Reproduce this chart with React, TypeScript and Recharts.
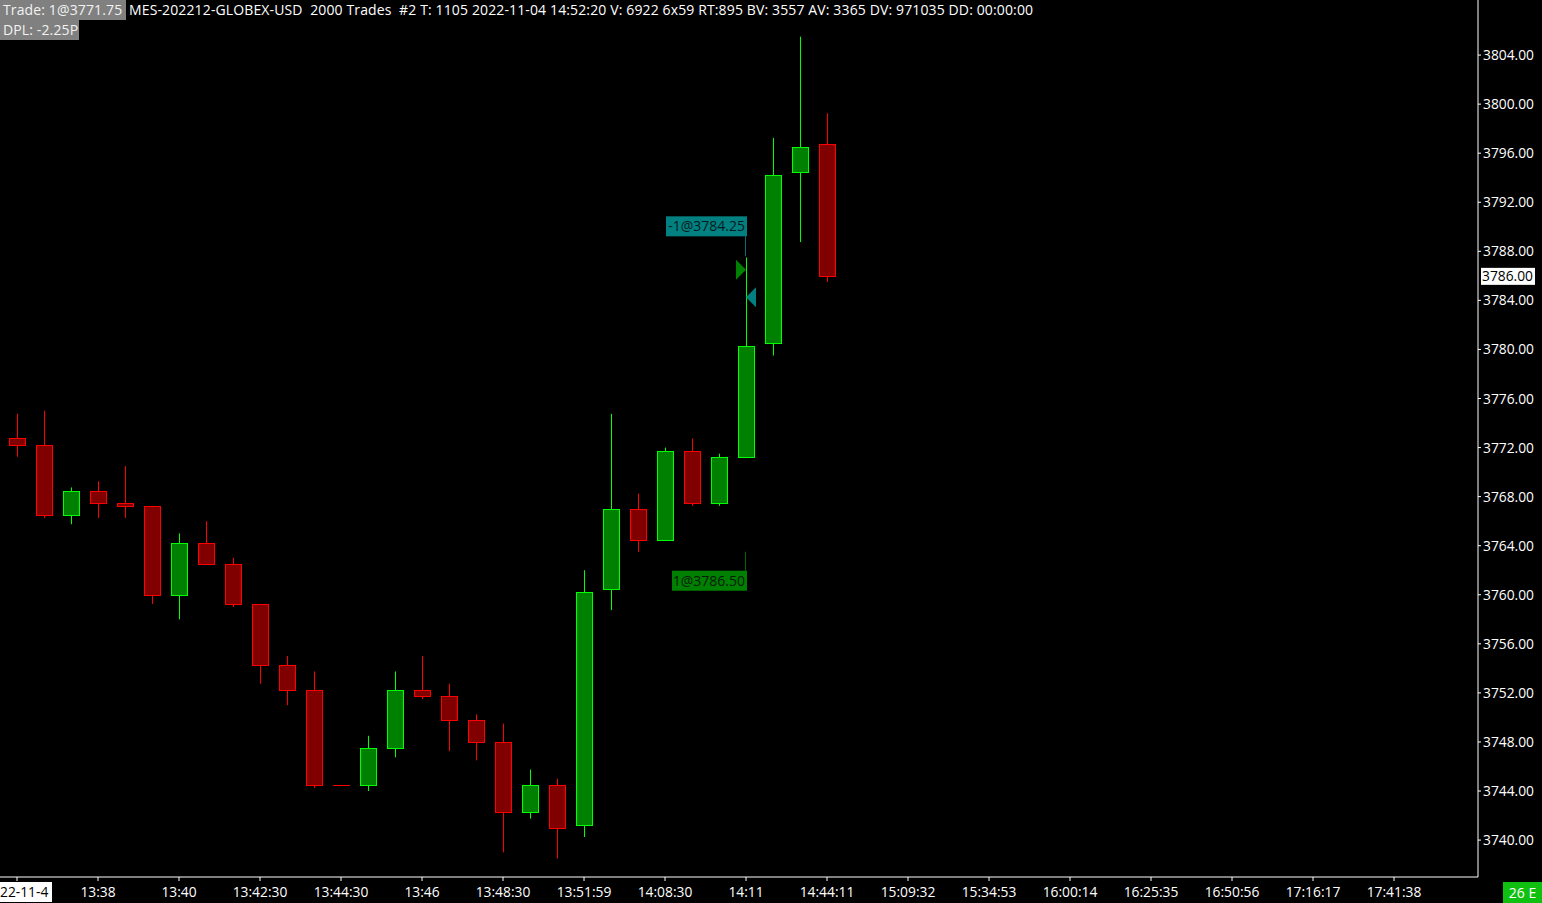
import React from 'react';
import { ComposedChart, Bar, XAxis, YAxis, Scatter, ReferenceLine } from 'recharts';

// ---- data ----
const opens = [3772.75, 3772.25, 3766.5, 3768.5, 3767.5, 3767.25, 3760.0, 3764.25, 3762.5, 3759.25, 3754.25, 3752.25, 3744.5, 3744.5, 3747.5, 3752.25, 3751.75, 3749.75, 3748.0, 3742.25, 3744.5, 3741.25, 3760.5, 3767.0, 3764.5, 3771.75, 3767.5, 3771.25, 3780.5, 3794.5, 3796.75];
const highs = [3774.75, 3775.0, 3768.75, 3769.25, 3770.5, 3767.25, 3765.0, 3766.0, 3763.0, 3759.25, 3755.0, 3753.75, 3744.5, 3748.5, 3753.75, 3755.0, 3752.75, 3750.25, 3749.5, 3745.75, 3745.0, 3762.0, 3774.75, 3768.25, 3772.0, 3772.75, 3771.5, 3787.5, 3797.25, 3805.5, 3799.25];
const lows = [3771.25, 3766.25, 3765.75, 3766.25, 3766.25, 3759.25, 3758.0, 3762.5, 3759.0, 3752.75, 3751.0, 3744.25, 3744.5, 3744.0, 3746.75, 3751.5, 3747.25, 3746.5, 3739.0, 3741.75, 3738.5, 3740.25, 3758.75, 3763.5, 3764.5, 3767.25, 3767.25, 3771.25, 3779.5, 3788.75, 3785.5];
const closes = [3772.25, 3766.5, 3768.5, 3767.5, 3767.25, 3760.0, 3764.25, 3762.5, 3759.25, 3754.25, 3752.25, 3744.5, 3744.5, 3747.5, 3752.25, 3751.75, 3749.75, 3748.0, 3742.25, 3744.5, 3741.0, 3760.25, 3767.0, 3764.5, 3771.75, 3767.5, 3771.25, 3780.25, 3794.25, 3796.5, 3786.0];

const timeLabels = ['22-11-4', '13:38', '13:40', '13:42:30', '13:44:30', '13:46', '13:48:30', '13:51:59', '14:08:30', '14:11', '14:44:11', '15:09:32', '15:34:53', '16:00:14', '16:25:35', '16:50:56', '17:16:17', '17:41:38'];
const labelIndex = timeLabels.map((_, k) => k * 3);

const priceTicks = [3740, 3744, 3748, 3752, 3756, 3760, 3764, 3768, 3772, 3776, 3780, 3784, 3788, 3792, 3796, 3800, 3804];
const lastPrice = 3786.0;

const tradeBar = [27, 27];
const tradePrice = [3786.5, 3784.25];
const tradeQty = [1, -1];

const headerTrade = 'Trade: 1@3771.75';
const headerInfo = 'MES-202212-GLOBEX-USD  2000 Trades  #2 T: 1105 2022-11-04 14:52:20 V: 6922 6x59 RT:895 BV: 3557 AV: 3365 DV: 971035 DD: 00:00:00';
const headerDpl = 'DPL: -2.25P';
const cornerText = '26 E';

const candles = opens.map((o, i) => ({
  i,
  open: o,
  high: highs[i],
  low: lows[i],
  close: closes[i],
  range: [lows[i], highs[i]],
}));

const trades = tradeBar.map((b, k) => ({ i: b, price: tradePrice[k], qty: tradeQty[k] }));

const FONT = '"Open Sans", "Noto Sans", sans-serif';
const AXIS_FS = 13.8;

function Candle(props: any) {
  const { x, y, width, height, payload } = props;
  if (payload == null || x == null) return null;
  const cx = Math.round(x + width / 2) + 0.5;
  const up = payload.close > payload.open;
  const stroke = up ? '#00ff00' : '#ff0000';
  const fill = up ? '#008000' : '#800000';
  const top = Math.min(y, y + height);
  const h = Math.abs(height);
  const rng = payload.high - payload.low;
  if (rng === 0 || h === 0) {
    return <line x1={cx - 8.5} x2={cx + 8.5} y1={Math.round(top) + 0.5} y2={Math.round(top) + 0.5} stroke={stroke} strokeWidth={1} />;
  }
  const k = h / rng;
  const yo = top + (payload.high - payload.open) * k;
  const yc = top + (payload.high - payload.close) * k;
  const bTop = Math.round(Math.min(yo, yc)) + 0.5;
  const bBot = Math.round(Math.max(yo, yc)) + 0.5;
  return (
    <g>
      <line x1={cx} x2={cx} y1={top} y2={top + h} stroke={stroke} strokeWidth={1} />
      <rect x={cx - 8} y={bTop} width={16} height={Math.max(bBot - bTop, 1)} fill={fill} stroke={stroke} strokeWidth={1} />
    </g>
  );
}

function TradeMark(props: any) {
  const { cx, cy, payload } = props;
  if (cx == null || cy == null) return null;
  const x = Math.round(cx);
  const label = `${payload.qty}@${payload.price.toFixed(2)}`;
  if (payload.qty > 0) {
    return (
      <g>
        <polygon points={`${x - 10},${cy - 10} ${x},${cy} ${x - 10},${cy + 10}`} fill="#008000" />
        <line x1={x - 0.5} x2={x - 0.5} y1={cy + 282} y2={cy + 301} stroke="#006400" />
        <rect x={x - 74} y={cy + 301} width={75} height={20} fill="#008000" />
        <text x={x - 1} y={cy + 316} textAnchor="end" fontSize={14} fill="#0a1a0a" style={{ fontFamily: FONT }}>{label}</text>
      </g>
    );
  }
  return (
    <g>
      <polygon points={`${x + 10},${cy - 10} ${x},${cy} ${x + 10},${cy + 10}`} fill="#008080" />
      <line x1={x - 0.5} x2={x - 0.5} y1={cy - 61} y2={cy - 41} stroke="#106878" />
      <rect x={x - 80} y={cy - 81} width={81} height={20} fill="#008080" />
      <text x={x - 1} y={cy - 66} textAnchor="end" fontSize={14} fill="#0a1a1a" style={{ fontFamily: FONT }}>{label}</text>
    </g>
  );
}

function TimeTick(props: any) {
  const { x, y, payload } = props;
  const k = labelIndex.indexOf(payload.value);
  if (k < 0) return null;
  const txt = timeLabels[k];
  if (k === 0) {
    return (
      <g>
        <rect x={0} y={y} width={52} height={20} fill="#ffffff" />
        <text x={0} y={y + 15} fill="#000000" fontSize={AXIS_FS} style={{ fontFamily: FONT }}>{txt}</text>
      </g>
    );
  }
  return (
    <text x={x} y={y + 15} textAnchor="middle" fill="#ffffff" fontSize={AXIS_FS} style={{ fontFamily: FONT }}>{txt}</text>
  );
}

function PriceTick(props: any) {
  const { x, y, payload } = props;
  return (
    <text x={x} y={y + 5} textAnchor="start" fill="#ffffff" fontSize={AXIS_FS} style={{ fontFamily: FONT }}>
      {payload.value.toFixed(2)}
    </text>
  );
}

function LastPriceLabel(props: any) {
  const vb = props.viewBox || {};
  const right = (vb.x || 0) + (vb.width || 0);
  const y = vb.y || 0;
  return (
    <g>
      <rect x={right + 3} y={y - 8} width={54} height={17} fill="#ffffff" />
      <text x={right + 4} y={y + 5} fill="#000000" fontSize={AXIS_FS} style={{ fontFamily: FONT }}>{lastPrice.toFixed(2)}</text>
    </g>
  );
}

export default function App() {
  return (
    <div style={{ position: 'absolute', left: 0, top: 0, width: 1542, height: 903, background: '#000000', fontFamily: FONT, overflow: 'hidden' }}>
      <ComposedChart width={1542} height={903} data={candles} margin={{ top: 0, right: 0, bottom: 0, left: 0 }}>
        <XAxis
          dataKey="i"
          type="number"
          domain={[-0.63, 54.11]}
          allowDataOverflow
          ticks={labelIndex}
          tick={<TimeTick />}
          tickSize={4}
          tickMargin={1}
          height={26}
          axisLine={{ stroke: '#ffffff' }}
          tickLine={{ stroke: '#ffffff' }}
          interval={0}
        />
        <YAxis
          orientation="right"
          type="number"
          domain={[3736.99, 3808.49]}
          allowDataOverflow
          ticks={priceTicks}
          tick={<PriceTick />}
          tickSize={3}
          tickMargin={2}
          width={64}
          axisLine={{ stroke: '#ffffff' }}
          tickLine={{ stroke: '#ffffff' }}
          interval={0}
        />
        <Bar dataKey="range" barSize={17} shape={<Candle />} isAnimationActive={false} />
        <Scatter data={trades} dataKey="price" shape={<TradeMark />} isAnimationActive={false} />
        <ReferenceLine y={lastPrice} stroke="none" label={<LastPriceLabel />} ifOverflow="visible" />
      </ComposedChart>

      <div style={{ position: 'absolute', left: 0, top: 0, height: 20, width: 126, background: '#808080' }} />
      <div style={{ position: 'absolute', left: 3, top: 0, height: 20, lineHeight: '20px', fontSize: 14, letterSpacing: '0.13px', color: '#f2f2f2', whiteSpace: 'pre' }}>{headerTrade}</div>
      <div style={{ position: 'absolute', left: 129, top: 0, height: 20, lineHeight: '20px', fontSize: 14, letterSpacing: '0.13px', color: '#ffffff', whiteSpace: 'pre' }}>{headerInfo}</div>
      <div style={{ position: 'absolute', left: 0, top: 20, height: 20, width: 79, background: '#808080' }} />
      <div style={{ position: 'absolute', left: 3, top: 20, height: 20, lineHeight: '20px', fontSize: 14, letterSpacing: '0.13px', color: '#f2f2f2', whiteSpace: 'pre' }}>{headerDpl}</div>
      <div style={{ position: 'absolute', left: 1503, top: 882, height: 21, width: 39, background: '#10c010', color: '#ffffff', fontSize: 14, lineHeight: '21px', textAlign: 'center' }}>{cornerText}</div>
    </div>
  );
}
